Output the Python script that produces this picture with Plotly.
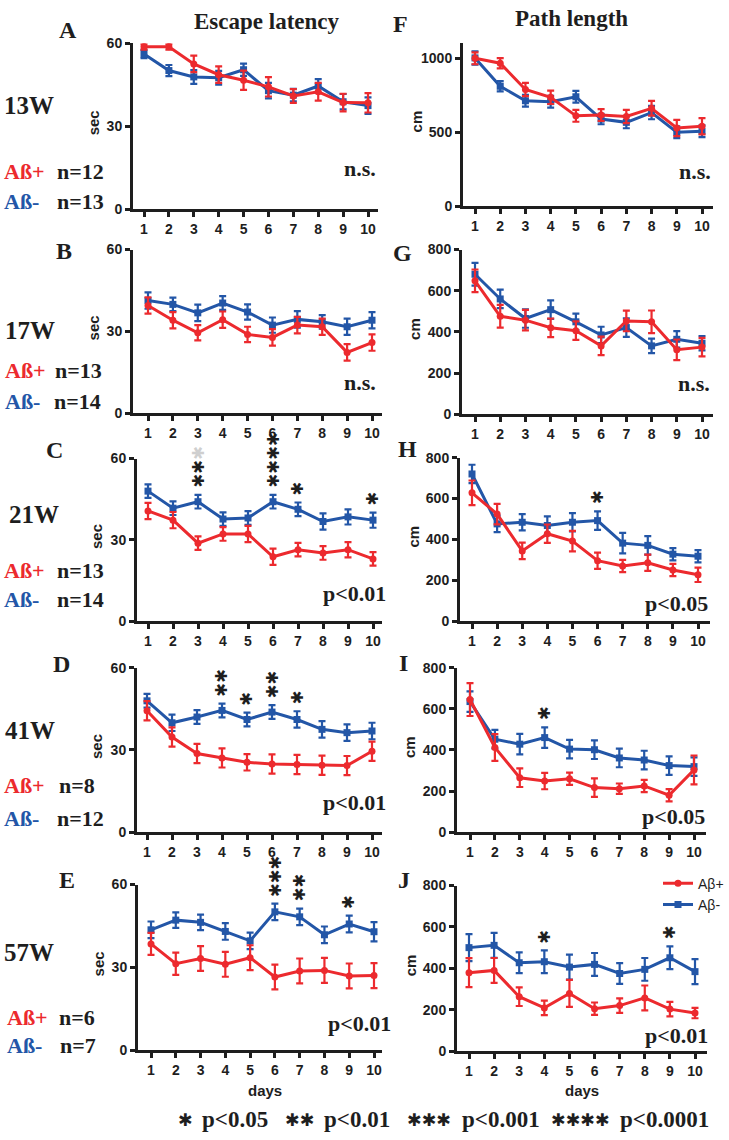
import plotly.graph_objects as go

W, H = 729, 1140
RED = '#ec2a2e'
BLUE = '#2356a7'
INK = '#1e1e1e'
SERIF = 'Liberation Serif'
SANS = 'Liberation Sans'
STARFONT = 'DejaVu Sans'

days = [1, 2, 3, 4, 5, 6, 7, 8, 9, 10]
day_labels = ['1', '2', '3', '4', '5', '6', '7', '8', '9', '10']

# ---------------- Escape latency (sec): mean and SEM ----------------
lat13_pos = [58.8, 58.8, 52.6, 48.7, 46.7, 44.3, 41.0, 42.5, 38.6, 38.5]
lat13_pos_err = [1.0, 1.0, 3.0, 3.0, 3.5, 3.5, 2.5, 3.2, 3.2, 3.5]
lat13_neg = [56.2, 50.2, 47.9, 47.6, 50.5, 42.9, 41.3, 44.6, 38.9, 37.5]
lat13_neg_err = [1.5, 2.0, 2.5, 2.5, 2.2, 2.8, 2.3, 2.5, 2.8, 3.0]

lat17_pos = [39.5, 34.1, 29.5, 34.3, 28.9, 27.8, 32.3, 31.7, 22.3, 25.9]
lat17_pos_err = [3.0, 3.0, 2.8, 3.0, 2.8, 3.0, 3.0, 3.0, 3.0, 3.0]
lat17_neg = [41.3, 39.9, 36.8, 40.4, 37.1, 32.3, 34.4, 33.5, 31.7, 34.1]
lat17_neg_err = [3.0, 2.5, 3.0, 2.5, 2.8, 2.8, 3.0, 2.5, 3.0, 3.0]

lat21_pos = [40.7, 37.3, 28.8, 32.2, 32.2, 23.8, 26.4, 25.2, 26.4, 23.0]
lat21_pos_err = [3.0, 3.0, 2.5, 2.5, 3.0, 3.0, 2.5, 2.5, 2.8, 2.5]
lat21_neg = [48.0, 41.7, 44.1, 37.7, 38.1, 44.1, 41.3, 36.8, 38.5, 37.3]
lat21_neg_err = [2.5, 2.5, 2.5, 2.5, 2.5, 2.5, 2.5, 3.0, 2.8, 2.8]

lat41_pos = [44.3, 34.7, 28.7, 27.1, 25.5, 24.9, 24.7, 24.4, 24.3, 29.5]
lat41_pos_err = [3.5, 3.5, 3.5, 3.5, 3.0, 3.5, 3.5, 3.5, 3.5, 3.5]
lat41_neg = [47.9, 39.9, 42.0, 44.4, 41.1, 43.8, 41.1, 37.5, 36.3, 36.9]
lat41_neg_err = [2.5, 3.0, 2.5, 2.5, 2.5, 2.5, 3.0, 3.0, 3.0, 3.0]

lat57_pos = [38.5, 31.3, 33.2, 31.1, 33.5, 26.5, 28.7, 28.9, 26.9, 27.0]
lat57_pos_err = [4.0, 4.0, 4.5, 4.5, 4.5, 4.5, 4.5, 4.5, 4.5, 4.5]
lat57_neg = [43.6, 47.1, 46.3, 43.0, 39.6, 50.1, 48.3, 41.8, 45.7, 42.9]
lat57_neg_err = [3.0, 2.8, 2.8, 3.0, 3.0, 3.0, 3.0, 3.0, 3.0, 3.5]

# ---------------- Path length (cm): mean and SEM ----------------
path13_pos = [1000, 967, 789, 736, 611, 617, 607, 662, 529, 540]
path13_pos_err = [40, 35, 45, 45, 40, 40, 45, 50, 55, 55]
path13_neg = [1003, 811, 713, 707, 740, 589, 567, 633, 500, 507]
path13_neg_err = [45, 35, 40, 40, 40, 35, 40, 45, 40, 40]

path17_pos = [648, 476, 457, 420, 406, 332, 453, 449, 313, 326]
path17_pos_err = [55, 55, 50, 45, 45, 45, 50, 55, 50, 45]
path17_neg = [680, 560, 465, 508, 449, 385, 421, 332, 364, 345]
path17_neg_err = [55, 45, 45, 45, 40, 40, 45, 35, 40, 35]

path21_pos = [628, 524, 344, 428, 392, 296, 270, 286, 251, 227]
path21_pos_err = [60, 50, 40, 45, 50, 40, 30, 40, 30, 35]
path21_neg = [720, 476, 484, 468, 484, 492, 382, 371, 328, 318]
path21_neg_err = [45, 40, 40, 45, 45, 45, 50, 45, 30, 30]

path41_pos = [645, 412, 265, 249, 260, 217, 212, 225, 180, 303]
path41_pos_err = [80, 65, 45, 40, 30, 45, 25, 30, 30, 70]
path41_neg = [635, 452, 428, 460, 404, 401, 361, 351, 324, 319]
path41_neg_err = [50, 45, 50, 50, 45, 45, 45, 45, 45, 45]

path57_pos = [379, 390, 263, 209, 279, 205, 220, 257, 203, 184]
path57_pos_err = [70, 60, 45, 35, 65, 30, 35, 60, 35, 25]
path57_neg = [500, 511, 427, 432, 406, 419, 375, 395, 451, 384]
path57_neg_err = [65, 60, 50, 55, 60, 55, 50, 55, 55, 60]

# ---------------- text content ----------------
weeks = ['13W', '17W', '21W', '41W', '57W']
n_pos = ['n=12', 'n=13', 'n=13', 'n=8', 'n=6']
n_neg = ['n=13', 'n=14', 'n=14', 'n=12', 'n=7']
sig_lat = ['n.s.', 'n.s.', 'p<0.01', 'p<0.01', 'p<0.01']
sig_path = ['n.s.', 'n.s.', 'p<0.05', 'p<0.05', 'p<0.01']
stars_lat = [{}, {}, {3: 2, 6: 4, 7: 1, 10: 1}, {4: 2, 5: 1, 6: 2, 7: 1}, {6: 3, 7: 2, 9: 1}]
faint_lat = [{}, {}, {3: 1}, {}, {}]
stars_path = [{}, {}, {6: 1}, {4: 1}, {4: 1, 9: 1}]
STAR = '✱'
footer_counts = [1, 2, 3, 4]
footer_text = ['p<0.05', 'p<0.01', 'p<0.001', 'p<0.0001']

lat_data = [
    (lat13_pos, lat13_pos_err, lat13_neg, lat13_neg_err),
    (lat17_pos, lat17_pos_err, lat17_neg, lat17_neg_err),
    (lat21_pos, lat21_pos_err, lat21_neg, lat21_neg_err),
    (lat41_pos, lat41_pos_err, lat41_neg, lat41_neg_err),
    (lat57_pos, lat57_pos_err, lat57_neg, lat57_neg_err),
]
path_data = [
    (path13_pos, path13_pos_err, path13_neg, path13_neg_err),
    (path17_pos, path17_pos_err, path17_neg, path17_neg_err),
    (path21_pos, path21_pos_err, path21_neg, path21_neg_err),
    (path41_pos, path41_pos_err, path41_neg, path41_neg_err),
    (path57_pos, path57_pos_err, path57_neg, path57_neg_err),
]

# ---------------- layout geometry (pixels) ----------------
# left, right, day1 px, day10 px, y0 px, ytop px, ymax
geom_lat = [
    (133, 378, 144, 368, 204, 36, 60),
    (133, 382, 148, 372, 411, 245, 60),
    (137, 382, 148, 373, 622, 457, 60),
    (137, 382, 147, 372, 836, 669, 60),
    (138, 382, 151, 374, 1057, 889, 60),
]
geom_path = [
    (463, 713, 475, 702, 201, 35, 1107),
    (462, 713, 475, 702, 412, 245, 800),
    (460, 710, 472, 698, 622, 456, 800),
    (457, 706, 470, 694, 836, 669, 800),
    (457, 707, 469, 695, 1058, 890, 800),
]
letters_lat = [('A', 68, 22), ('B', 64, 246), ('C', 55, 448), ('D', 61, 665), ('E', 67, 884)]
letters_path = [('F', 400, 16), ('G', 402, 248), ('H', 407, 447), ('I', 404, 664), ('J', 404, 884)]
week_pos = [(2, 99), (3, 327), (7, 514), (3, 733), (2, 958)]
grp_pos = [((2, 55, 166), (2, 55, 196)), ((3, 53, 368), (3, 52, 399)), ((2, 55, 570), (2, 55, 600)),
           ((2, 57, 789), (2, 55, 822)), ((5, 57, 1024), (5, 58, 1052))]
sig_lat_pos = [(378, 163), (378, 380), (388, 594), (388, 806), (393, 1030)]
sig_path_pos = [(713, 166), (712, 381), (710, 604), (707, 820), (710, 1042)]
footer_star_x = [176, 283, 405, 549]
footer_text_x = [200, 322, 460, 618]


def px(xp):
    return xp / W


def py(yp):
    return 1 - yp / H


fig = go.Figure()
annotations = []


def ann(text, x, y, size, family=SERIF, color=INK, xanchor='center', yanchor='middle',
        weight='bold', angle=0):
    annotations.append(dict(text=text, x=px(x), y=py(y), xref='paper', yref='paper',
                            showarrow=False, xanchor=xanchor, yanchor=yanchor, textangle=angle,
                            font=dict(family=family, size=size, color=color, weight=weight)))


axis_index = 0
layout_axes = {}


def add_panel(data, geom, yticks, ylabel, label_dx, stars, faint, sig, sig_pos, letter, legend=False):
    global axis_index
    axis_index += 1
    k = axis_index
    left, right, d1, d10, y0, ytop, ymax = geom
    per = (d10 - d1) / 9.0
    xlo = 1 - (d1 - left) / per
    xhi = 10 + (right - d10) / per
    xname = 'xaxis' if k == 1 else 'xaxis%d' % k
    yname = 'yaxis' if k == 1 else 'yaxis%d' % k
    xref = 'x' if k == 1 else 'x%d' % k
    yref = 'y' if k == 1 else 'y%d' % k
    tickfont = dict(family=SANS, size=14, color=INK, weight='bold')
    layout_axes[xname] = dict(domain=[px(left), px(right)], range=[xlo, xhi], anchor=yref,
                              tickvals=days, ticktext=day_labels, ticks='outside', ticklen=5,
                              tickwidth=2.5, tickcolor=INK, showline=True, linewidth=3,
                              linecolor=INK, showgrid=False, zeroline=False, tickfont=tickfont,
                              fixedrange=True)
    layout_axes[yname] = dict(domain=[py(y0), py(ytop)], range=[0, ymax], anchor=xref,
                              tickvals=yticks, ticks='outside', ticklen=5, tickwidth=2.5,
                              tickcolor=INK, showline=True, linewidth=3, linecolor=INK,
                              showgrid=False, zeroline=False, tickfont=tickfont,
                              fixedrange=True)
    pos, pos_err, neg, neg_err = data
    fig.add_trace(go.Scatter(x=days, y=neg, mode='lines+markers', name='Aβ-',
                             line=dict(color=BLUE, width=3),
                             marker=dict(symbol='square', size=7, color=BLUE),
                             error_y=dict(type='data', array=neg_err, color=BLUE, thickness=2.2, width=3.5),
                             xaxis=xref, yaxis=yref, cliponaxis=False, hoverinfo='skip',
                             showlegend=legend, legendrank=2))
    fig.add_trace(go.Scatter(x=days, y=pos, mode='lines+markers', name='Aβ+',
                             line=dict(color=RED, width=3),
                             marker=dict(symbol='circle', size=7, color=RED),
                             error_y=dict(type='data', array=pos_err, color=RED, thickness=2.2, width=3.5),
                             xaxis=xref, yaxis=yref, cliponaxis=False, hoverinfo='skip',
                             showlegend=legend, legendrank=1))
    scale = (y0 - ytop) / ymax
    # y-axis label
    ann(ylabel, left + label_dx, (y0 + ytop) / 2 - 3, 15, family=SANS, angle=-90)
    # significance stars above the groups: one vertical run of stars per day
    for d, cnt in stars.items():
        top = max(pos[d - 1] + pos_err[d - 1], neg[d - 1] + neg_err[d - 1])
        base = y0 - top * scale - 5
        xpix = d1 + (d - 1) * per
        run = STAR * cnt
        nf = faint.get(d, 0)
        if nf:
            run += '<span style="color:#cfcfcf">' + STAR * nf + '</span>'
        ann(run, xpix, base, 16.5, family=STARFONT, yanchor='bottom', weight='bold', angle=-90)
    ann(sig, sig_pos[0], sig_pos[1], 22, xanchor='right')
    ann(letter[0], letter[1], letter[2], 24)


for i in range(5):
    add_panel(lat_data[i], geom_lat[i], [0, 30, 60], 'sec', -40, stars_lat[i], faint_lat[i],
              sig_lat[i], sig_lat_pos[i], letters_lat[i])
    yt = [0, 500, 1000] if i == 0 else [0, 200, 400, 600, 800]
    add_panel(path_data[i], geom_path[i], yt, 'cm', -47, stars_path[i], {},
              sig_path[i], sig_path_pos[i], letters_path[i], legend=(i == 4))
    # week and group labels
    ann(weeks[i], week_pos[i][0], week_pos[i][1], 25, xanchor='left')
    gp, gn = grp_pos[i]
    ann('Aß+', gp[0], gp[2], 22, color=RED, xanchor='left')
    ann(n_pos[i], gp[1], gp[2], 22, xanchor='left')
    ann('Aß-', gn[0], gn[2], 22, color=BLUE, xanchor='left')
    ann(n_neg[i], gn[1], gn[2], 22, xanchor='left')

# column titles
ann('Escape latency', 267, 14, 23)
ann('Path length', 571, 11, 23)
# x-axis titles
ann('days', 265, 1098, 15, family=SANS)
ann('days', 582, 1098, 15, family=SANS)
# footer key
for cnt, txt, sx, tx in zip(footer_counts, footer_text, footer_star_x, footer_text_x):
    ann(STAR * cnt, sx, 1128, 17.5, family=STARFONT, xanchor='left', weight='bold')
    ann(txt, tx, 1127, 23, xanchor='left')

fig.update_layout(
    width=W, height=H,
    margin=dict(l=0, r=0, t=0, b=0),
    paper_bgcolor='white', plot_bgcolor='white',
    showlegend=True,
    hovermode=False,
    legend=dict(x=1, y=py(872), xanchor='right', yanchor='top',
                font=dict(family=SANS, size=14, color=INK),
                bgcolor='rgba(0,0,0,0)', itemwidth=30, tracegroupgap=0),
    annotations=annotations,
    **layout_axes,
)

fig.write_html('out.html', config={'displayModeBar': False},
               post_script="document.body.style.margin='0px';")
